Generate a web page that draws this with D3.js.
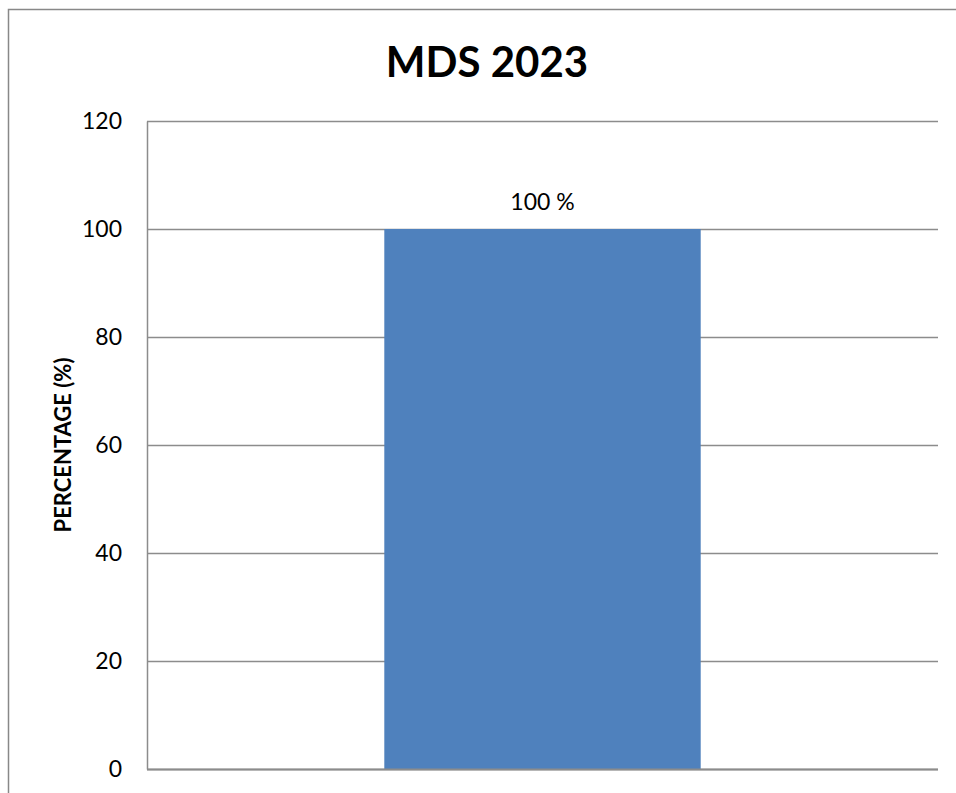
<!DOCTYPE html>
<html>
<head>
<meta charset="utf-8">
<script src="https://cdn.jsdelivr.net/npm/d3@7"></script>
<style>
  body { margin: 0; background: #fff; }
  text { font-family: Lato, "Open Sans", sans-serif; fill: #000; }
</style>
</head>
<body>
<div id="chart"></div>
<script>
// chart data
var categories = ["MDS 2023"];
var values = [100];
var valueLabels = ["100 %"];
var yTicks = [0, 20, 40, 60, 80, 100, 120];
var chartTitle = "MDS 2023";
var yTitle = "PERCENTAGE (%)";

var W = 956, H = 793;
var margin = { top: 121, right: 18, bottom: 24, left: 147 };
var width = W - margin.left - margin.right,
    height = H - margin.top - margin.bottom;

var svg = d3.select("#chart").append("svg")
    .attr("width", W)
    .attr("height", H);

// outer chart frame
svg.append("rect")
    .attr("x", 8.5).attr("y", 9.5)
    .attr("width", W + 10).attr("height", H + 10)
    .attr("fill", "none")
    .attr("stroke", "#888")
    .attr("stroke-width", 1.5);

var g = svg.append("g")
    .attr("transform", "translate(" + margin.left + "," + margin.top + ")");

// scales
var x = d3.scaleBand()
    .domain(categories)
    .range([0, width])
    .paddingInner(0.6)
    .paddingOuter(0.3);

var y = d3.scaleLinear()
    .domain([0, 120])
    .range([height, 0]);

// gridlines
g.selectAll(".grid")
    .data(yTicks)
    .enter().append("line")
    .attr("class", "grid")
    .attr("x1", 0).attr("x2", width)
    .attr("y1", function(d) { return Math.round(y(d)) + 0.5; })
    .attr("y2", function(d) { return Math.round(y(d)) + 0.5; })
    .attr("stroke", "#8c8c8c")
    .attr("stroke-width", 1.3);

// bars
g.selectAll(".bar")
    .data(values)
    .enter().append("rect")
    .attr("class", "bar")
    .attr("x", function(d, i) { return x(categories[i]); })
    .attr("width", x.bandwidth())
    .attr("y", function(d) { return y(d); })
    .attr("height", function(d) { return height - y(d); })
    .attr("fill", "#4f81bd");

// bottom axis line (over bar)
g.append("line")
    .attr("x1", 0).attr("x2", width)
    .attr("y1", height + 0.5).attr("y2", height + 0.5)
    .attr("stroke", "#8c8c8c")
    .attr("stroke-width", 2);

// y axis
var yAxis = d3.axisLeft(y)
    .tickValues(yTicks)
    .tickSize(0)
    .tickPadding(25);

g.append("g")
    .attr("class", "y-axis")
    .call(yAxis)
    .call(function(a) {
        a.select(".domain")
            .attr("stroke", "#8c8c8c")
            .attr("stroke-width", 1.5);
        a.selectAll("text")
            .style("font-size", "23px")
            .style("font-family", "Lato, 'Open Sans', sans-serif")
            .attr("fill", "#000");
    });

// value labels
g.selectAll(".vlabel")
    .data(values)
    .enter().append("text")
    .attr("class", "vlabel")
    .attr("x", function(d, i) { return x(categories[i]) + x.bandwidth() / 2; })
    .attr("y", function(d) { return y(d) - 19; })
    .attr("text-anchor", "middle")
    .style("font-size", "23px")
    .text(function(d, i) { return valueLabels[i]; });

// title
svg.append("text")
    .attr("x", 487)
    .attr("y", 77)
    .attr("text-anchor", "middle")
    .style("font-size", "42px")
    .style("font-weight", "bold")
    .text(chartTitle);

// y axis title
svg.append("text")
    .attr("transform", "translate(71," + (margin.top + height / 2) + ") rotate(-90)")
    .attr("text-anchor", "middle")
    .style("font-size", "22px")
    .style("font-weight", "bold")
    .text(yTitle);
</script>
</body>
</html>
